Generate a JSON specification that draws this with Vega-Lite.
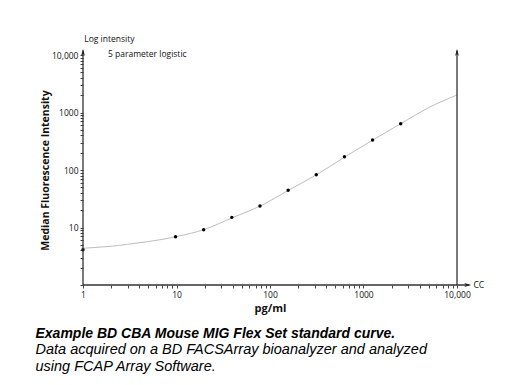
{
  "$schema": "https://vega.github.io/schema/vega-lite/v6.json",
  "width": 374,
  "height": 230,
  "autosize": {"type": "none"},
  "padding": {"left": 83, "top": 55, "right": 53, "bottom": 100},
  "background": "white",
  "config": {"view": {"stroke": null}},
  "title": {
    "text": "Example BD CBA Mouse MIG Flex Set standard curve.",
    "subtitle": ["Data acquired on a BD FACSArray bioanalyzer and analyzed", "using FCAP Array Software."],
    "orient": "bottom",
    "anchor": "start",
    "frame": "bounds",
    "dx": -5,
    "font": "Liberation Sans",
    "fontSize": 14,
    "fontStyle": "italic",
    "fontWeight": "bold",
    "color": "#000000",
    "subtitleFont": "Liberation Sans",
    "subtitleFontSize": 14.5,
    "subtitleFontStyle": "italic",
    "subtitleFontWeight": "normal",
    "subtitleColor": "#000000",
    "subtitleLineHeight": 17.5,
    "subtitlePadding": 2,
    "offset": 13
  },
  "datasets": {
    "standards": [
      {"conc": 1, "mfi": 4.11},
      {"conc": 9.77, "mfi": 6.92},
      {"conc": 19.53, "mfi": 9.16},
      {"conc": 39.06, "mfi": 15.0},
      {"conc": 78.13, "mfi": 23.6},
      {"conc": 156.25, "mfi": 44.4},
      {"conc": 312.5, "mfi": 82.9},
      {"conc": 625, "mfi": 170},
      {"conc": 1250, "mfi": 332},
      {"conc": 2500, "mfi": 638}
    ],
    "curve": [
      {"conc": 1, "mfi": 4.35},
      {"conc": 1.5, "mfi": 4.55},
      {"conc": 2, "mfi": 4.72},
      {"conc": 3, "mfi": 5.1},
      {"conc": 5, "mfi": 5.7},
      {"conc": 7, "mfi": 6.2},
      {"conc": 10, "mfi": 6.95},
      {"conc": 20, "mfi": 9.3},
      {"conc": 40, "mfi": 14.9},
      {"conc": 80, "mfi": 24},
      {"conc": 160, "mfi": 45},
      {"conc": 320, "mfi": 84},
      {"conc": 640, "mfi": 171},
      {"conc": 1250, "mfi": 330},
      {"conc": 2500, "mfi": 640},
      {"conc": 5000, "mfi": 1220},
      {"conc": 10000, "mfi": 2015}
    ],
    "axislines": [
      {"x": 1, "y": 1, "x2": 1, "y2": 12000},
      {"x": 10000, "y": 1, "x2": 10000, "y2": 12000},
      {"x": 1, "y": 1, "x2": 13500, "y2": 1}
    ],
    "arrows": [
      {"x": 1, "y": 12700, "angle": 0},
      {"x": 10000, "y": 12700, "angle": 0},
      {"x": 14190, "y": 1, "angle": 90}
    ],
    "notes": [
      {"x": 1.03, "y": 18750, "label": "Log intensity"},
      {"x": 1.85, "y": 10400, "label": "5 parameter logistic"},
      {"x": 15000, "y": 1, "label": "CC"}
    ]
  },
  "layer": [
    {
      "data": {"name": "curve"},
      "mark": {"type": "line", "color": "#bdbdbd", "strokeWidth": 1, "interpolate": "monotone"},
      "encoding": {
        "x": {
          "field": "conc", "type": "quantitative",
          "scale": {"type": "log", "domain": [1, 10000], "nice": false},
          "axis": {
            "values": [1,2,3,4,5,6,7,8,9,10,20,30,40,50,60,70,80,90,100,200,300,400,500,600,700,800,900,1000,2000,3000,4000,5000,6000,7000,8000,9000,10000],
            "labelExpr": "datum.value == 10000 ? '10,000' : (datum.value == 1 || datum.value == 10 || datum.value == 100 || datum.value == 1000 ? format(datum.value, 'd') : '')",
            "domain": false, "grid": false,
            "tickSize": 3, "tickColor": "#444444", "tickWidth": 1,
            "labelFont": "Open Sans", "labelFontSize": 8.5, "labelColor": "#111111", "labelPadding": 2,
            "labelFlush": false, "labelOverlap": false, "labelBound": false,
            "title": "pg/ml", "titleFont": "Open Sans", "titleFontWeight": "bold", "titleFontSize": 11,
            "titleColor": "#111111", "titlePadding": 4
          }
        },
        "y": {
          "field": "mfi", "type": "quantitative",
          "scale": {"type": "log", "domain": [1, 10000], "nice": false},
          "axis": {
            "values": [1,2,3,4,5,6,7,8,9,10,20,30,40,50,60,70,80,90,100,200,300,400,500,600,700,800,900,1000,2000,3000,4000,5000,6000,7000,8000,9000,10000],
            "labelExpr": "datum.value == 10000 ? '10,000' : (datum.value == 10 || datum.value == 100 || datum.value == 1000 ? format(datum.value, 'd') : '')",
            "domain": false, "grid": false,
            "tickSize": 3, "tickColor": "#444444", "tickWidth": 1,
            "labelFont": "Open Sans", "labelFontSize": 8.5, "labelColor": "#111111", "labelPadding": 2,
            "labelOverlap": false, "labelBound": false,
            "title": "Median Fluorescence Intensity", "titleFont": "Open Sans", "titleFontWeight": "bold", "titleFontSize": 10.5,
            "titleColor": "#111111", "titlePadding": 1
          }
        }
      }
    },
    {
      "data": {"name": "standards"},
      "mark": {"type": "point", "filled": true, "color": "#000000", "size": 12, "opacity": 1},
      "encoding": {
        "x": {"field": "conc", "type": "quantitative"},
        "y": {"field": "mfi", "type": "quantitative"}
      }
    },
    {
      "data": {"name": "axislines"},
      "mark": {"type": "rule", "color": "#333333", "strokeWidth": 1.3},
      "encoding": {
        "x": {"field": "x", "type": "quantitative"},
        "y": {"field": "y", "type": "quantitative"},
        "x2": {"field": "x2"},
        "y2": {"field": "y2"}
      }
    },
    {
      "data": {"name": "arrows"},
      "mark": {"type": "point", "filled": true, "color": "#222222", "opacity": 1, "size": 49, "shape": "M0,0L0.55,2L0,1.45L-0.55,2Z"},
      "encoding": {
        "x": {"field": "x", "type": "quantitative"},
        "y": {"field": "y", "type": "quantitative"},
        "angle": {"field": "angle", "type": "quantitative", "scale": null}
      }
    },
    {
      "data": {"name": "notes"},
      "mark": {"type": "text", "align": "left", "baseline": "middle", "font": "Open Sans", "fontSize": 8.5, "color": "#111111"},
      "encoding": {
        "x": {"field": "x", "type": "quantitative"},
        "y": {"field": "y", "type": "quantitative"},
        "text": {"field": "label"}
      }
    }
  ]
}
